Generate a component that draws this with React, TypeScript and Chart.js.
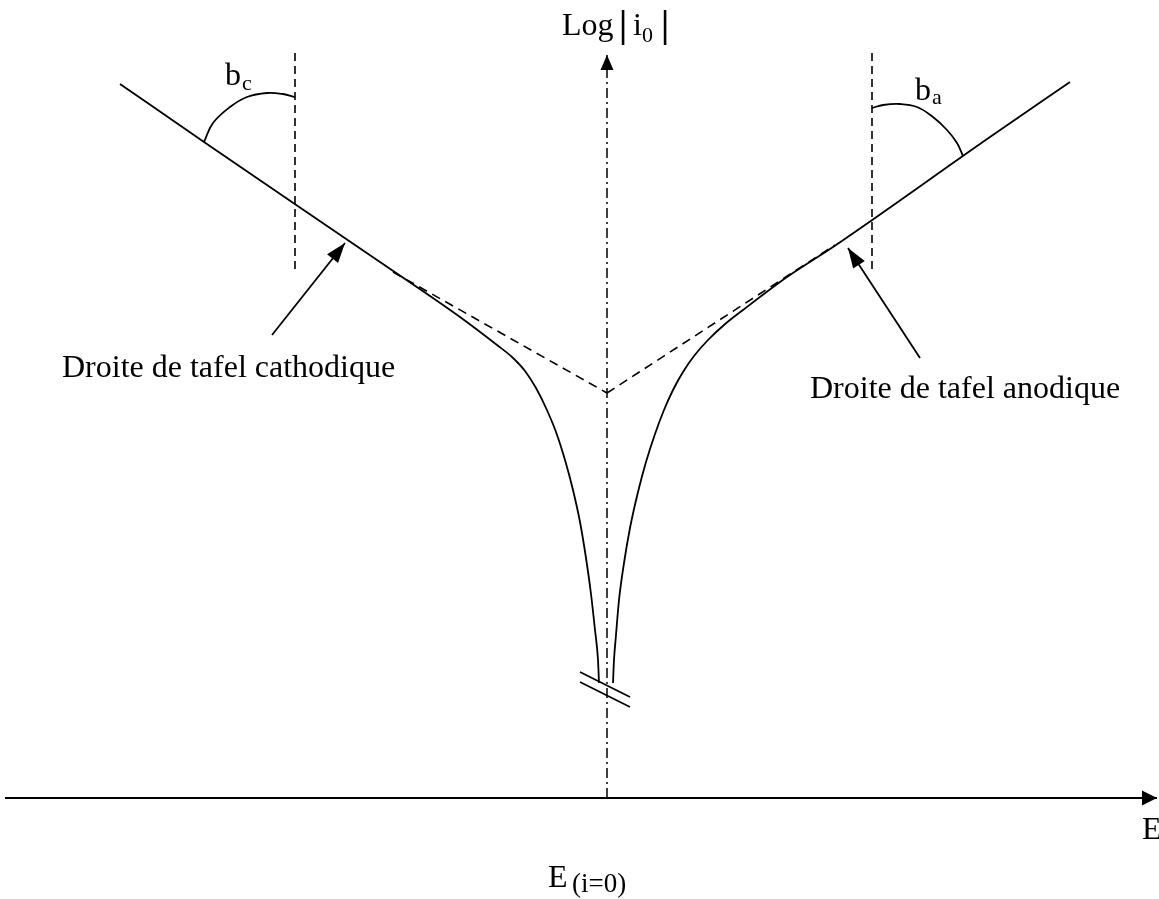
import React, { useEffect, useRef } from "react";
import { Chart, registerables } from "chart.js";

Chart.register(...registerables);

// Polarisation curve in arbitrary units: E relative to E(i=0), log|i| above the E axis
const cathodicE = [-4.87, -4.03, -2.27, -1.47, -1.1, -0.95, -0.82, -0.71, -0.61, -0.51, -0.42, -0.34, -0.27, -0.21, -0.16, -0.12, -0.09, -0.08];
const cathodicLogI = [7.14, 6.56, 5.36, 4.81, 4.53, 4.41, 4.27, 4.1, 3.9, 3.66, 3.38, 3.08, 2.76, 2.4, 2.04, 1.68, 1.38, 1.15];
const anodicE = [4.63, 3.83, 2.26, 1.8, 1.36, 1.17, 1.01, 0.87, 0.76, 0.66, 0.57, 0.48, 0.39, 0.31, 0.23, 0.17, 0.12, 0.09, 0.07, 0.06];
const anodicLogI = [7.16, 6.61, 5.51, 5.21, 4.88, 4.73, 4.58, 4.42, 4.26, 4.08, 3.88, 3.64, 3.36, 3.06, 2.7, 2.35, 1.98, 1.63, 1.38, 1.15];

// Tafel extrapolations meeting on the E(i=0) line
const cathodicTafelE = [-2.14, 0];
const cathodicTafelLogI = [5.26, 4.05];
const anodicTafelE = [0, 2.28];
const anodicTafelLogI = [4.05, 5.53];

// Vertical references for the Tafel slopes
const cathodicRefE = [-3.12, -3.12];
const anodicRefE = [2.65, 2.65];
const refLogI = [7.45, 5.28];

// Slope arcs b_c and b_a
const bcArcE = [-4.03, -3.94, -3.77, -3.6, -3.4, -3.24, -3.12];
const bcArcLogI = [6.56, 6.75, 6.91, 7.01, 7.05, 7.04, 7.01];
const baArcE = [2.65, 2.76, 2.93, 3.1, 3.26, 3.4, 3.5, 3.56];
const baArcLogI = [6.9, 6.93, 6.94, 6.91, 6.81, 6.68, 6.55, 6.42];

// Pointers to the Tafel lines
const cathodicPointerE = [-3.35, -2.62];
const cathodicPointerLogI = [4.63, 5.55];
const anodicPointerE = [3.13, 2.41];
const anodicPointerLogI = [4.4, 5.5];

// Axes
const eAxisE = [-6.02, 5.5];
const eAxisLogI = [0, 0];
const logAxisE = [0, 0];
const logAxisLogI = [0, 7.43];

// Axis break marks
const breakE = [-0.27, 0.23];
const breakUpperLogI = [1.26, 1.01];
const breakLowerLogI = [1.16, 0.91];

const E_MIN = -6.07;
const E_MAX = 5.52;
const LOG_MIN = -1.01;
const LOG_MAX = 7.98;

const zip = (xs: number[], ys: number[]) => xs.map((x, i) => ({ x, y: ys[i] }));

const SERIF = '"Liberation Serif", "Times New Roman", serif';

type Label = { text: string; x: number; y: number; size: number; align?: CanvasTextAlign; weight?: string };

const labels: Label[] = [
  { text: "Log", x: -0.45, y: 7.63, size: 32 },
  { text: "|", x: 0.16, y: 7.61, size: 37, align: "center", weight: "bold" },
  { text: "i", x: 0.26, y: 7.63, size: 32 },
  { text: "0", x: 0.35, y: 7.56, size: 22 },
  { text: "|", x: 0.58, y: 7.61, size: 37, align: "center", weight: "bold" },
  { text: "b", x: -3.82, y: 7.13, size: 32 },
  { text: "c", x: -3.65, y: 7.08, size: 22 },
  { text: "b", x: 3.08, y: 6.98, size: 32 },
  { text: "a", x: 3.25, y: 6.94, size: 22 },
  { text: "Droite de tafel cathodique", x: -5.45, y: 4.21, size: 32 },
  { text: "Droite de tafel anodique", x: 2.03, y: 4.0, size: 32 },
  { text: "E", x: 5.35, y: -0.41, size: 32 },
  { text: "E", x: -0.59, y: -0.89, size: 32 },
  { text: "(i=0)", x: -0.35, y: -0.94, size: 27 },
];

const arrowHeads = {
  id: "arrowHeads",
  afterDatasetsDraw(chart: any) {
    const ctx = chart.ctx;
    chart.data.datasets.forEach((ds: any, i: number) => {
      if (!ds.arrowHead) return;
      const pts = chart.getDatasetMeta(i).data;
      const a = pts[pts.length - 2];
      const b = pts[pts.length - 1];
      const ang = Math.atan2(b.y - a.y, b.x - a.x);
      const { length, width } = ds.arrowHead;
      const bx = b.x - length * Math.cos(ang);
      const by = b.y - length * Math.sin(ang);
      const nx = -Math.sin(ang) * width;
      const ny = Math.cos(ang) * width;
      ctx.save();
      ctx.fillStyle = "#000";
      ctx.beginPath();
      ctx.moveTo(b.x, b.y);
      ctx.lineTo(bx + nx, by + ny);
      ctx.lineTo(bx - nx, by - ny);
      ctx.closePath();
      ctx.fill();
      ctx.restore();
    });
  },
};

const textLabels = {
  id: "textLabels",
  afterDraw(chart: any) {
    const ctx = chart.ctx;
    const xs = chart.scales.x;
    const ys = chart.scales.y;
    ctx.save();
    ctx.fillStyle = "#000";
    ctx.textBaseline = "alphabetic";
    labels.forEach((l) => {
      ctx.font = `${l.weight || "normal"} ${l.size}px ${SERIF}`;
      ctx.textAlign = l.align || "left";
      ctx.fillText(l.text, xs.getPixelForValue(l.x), ys.getPixelForValue(l.y));
    });
    ctx.restore();
  },
};

const line = (data: { x: number; y: number }[], extra: any = {}) => ({
  data,
  showLine: true,
  borderColor: "#000",
  backgroundColor: "#000",
  borderWidth: 1.8,
  pointRadius: 0,
  pointHoverRadius: 0,
  tension: 0,
  ...extra,
});

export default function App() {
  const canvasRef = useRef<HTMLCanvasElement | null>(null);

  useEffect(() => {
    if (!canvasRef.current) return;
    const chart = new Chart(canvasRef.current, {
      type: "scatter",
      data: {
        datasets: [
          line(zip(eAxisE, eAxisLogI), { borderWidth: 2, arrowHead: { length: 15, width: 7.5 } }),
          line(zip(logAxisE, logAxisLogI), { borderWidth: 1.5, borderDash: [10, 4, 2, 4], arrowHead: { length: 15, width: 6.5 } }),
          line(zip(cathodicE, cathodicLogI), { cubicInterpolationMode: "monotone" }),
          line(zip(anodicE, anodicLogI), { cubicInterpolationMode: "monotone" }),
          line(zip(cathodicTafelE, cathodicTafelLogI), { borderWidth: 1.6, borderDash: [9, 6] }),
          line(zip(anodicTafelE, anodicTafelLogI), { borderWidth: 1.6, borderDash: [9, 6] }),
          line(zip(cathodicRefE, refLogI), { borderWidth: 1.6, borderDash: [8, 5] }),
          line(zip(anodicRefE, refLogI), { borderWidth: 1.6, borderDash: [8, 5] }),
          line(zip(bcArcE, bcArcLogI), { tension: 0.4 }),
          line(zip(baArcE, baArcLogI), { tension: 0.4 }),
          line(zip(cathodicPointerE, cathodicPointerLogI), { arrowHead: { length: 20, width: 7 } }),
          line(zip(anodicPointerE, anodicPointerLogI), { arrowHead: { length: 20, width: 7 } }),
          line(zip(breakE, breakUpperLogI)),
          line(zip(breakE, breakLowerLogI)),
        ] as any,
      },
      options: {
        animation: false,
        responsive: false,
        events: [],
        layout: { padding: 0 },
        plugins: {
          legend: { display: false },
          title: { display: false },
          tooltip: { enabled: false },
        },
        scales: {
          x: { type: "linear", min: E_MIN, max: E_MAX, display: false },
          y: { type: "linear", min: LOG_MIN, max: LOG_MAX, display: false },
        },
      },
      plugins: [arrowHeads, textLabels],
    });
    return () => chart.destroy();
  }, []);

  return (
    <div style={{ position: "absolute", left: 0, top: 0, width: 1159, height: 899, background: "#fff" }}>
      <canvas ref={canvasRef} width={1159} height={899} />
    </div>
  );
}
